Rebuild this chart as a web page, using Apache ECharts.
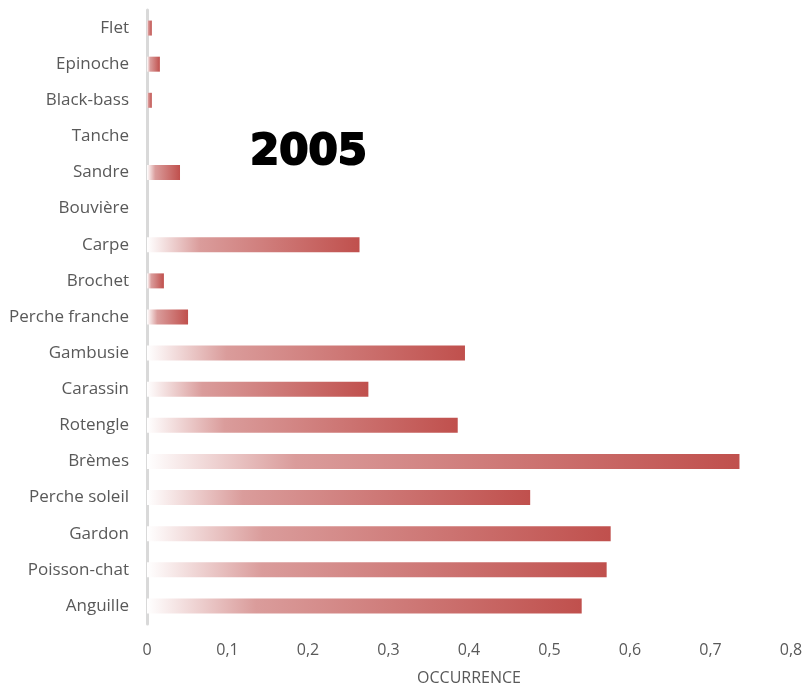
<!DOCTYPE html>
<html>
<head>
<meta charset="utf-8">
<script src="https://cdn.jsdelivr.net/npm/echarts@6/dist/echarts.min.js"></script>
<style>
html,body{margin:0;padding:0;background:#fff;}
#chart{width:806px;height:687px;}
</style>
</head>
<body>
<div id="chart"></div>
<script>
const categories = ["Flet","Epinoche","Black-bass","Tanche","Sandre","Bouvière","Carpe","Brochet","Perche franche","Gambusie","Carassin","Rotengle","Brèmes","Perche soleil","Gardon","Poisson-chat","Anguille"];
const occurrence = [0.006,0.016,0.006,0,0.041,0,0.264,0.021,0.051,0.395,0.275,0.386,0.736,0.476,0.576,0.571,0.540];
const titleText = "2005";
const axisName = "OCCURRENCE";

const chart = echarts.init(document.getElementById('chart'));
chart.setOption({
  animation: false,
  backgroundColor: '#ffffff',
  grid: {left: 147, right: 15, top: 10, bottom: 63, containLabel: false, outerBoundsMode: 'none'},
  graphic: [{
    type: 'text', left: 249, top: 131,
    style: {text: titleText, font: '900 42px "DejaVu Sans"', fill: '#000', stroke: '#000', lineWidth: 2}
  }],
  xAxis: {
    type: 'value', min: 0, max: 0.8, interval: 0.1,
    name: axisName, nameLocation: 'middle', nameGap: 46,
    nameTextStyle: {color: '#595959', fontSize: 16, fontFamily: 'Open Sans'},
    axisLine: {show: false}, axisTick: {show: false}, splitLine: {show: false},
    axisLabel: {color: '#595959', fontSize: 16, fontFamily: 'Open Sans', margin: 18,
      formatter: v => String(Math.round(v*10)/10).replace('.', ',')}
  },
  yAxis: {
    type: 'category', data: categories, inverse: true,
    axisLine: {show: true, lineStyle: {color: '#d9d9d9', width: 3}},
    axisTick: {show: false},
    axisLabel: {color: '#595959', fontSize: 17, fontFamily: 'Open Sans', margin: 18}
  },
  series: [{
    type: 'bar', data: occurrence, barWidth: 15,
    itemStyle: {
      color: new echarts.graphic.LinearGradient(0, 0, 1, 0, [
        {offset: 0, color: '#ffffff'},
        {offset: 0.25, color: '#da9c9b'},
        {offset: 1, color: '#c0504d'}
      ])
    }
  }]
});
</script>
</body>
</html>
